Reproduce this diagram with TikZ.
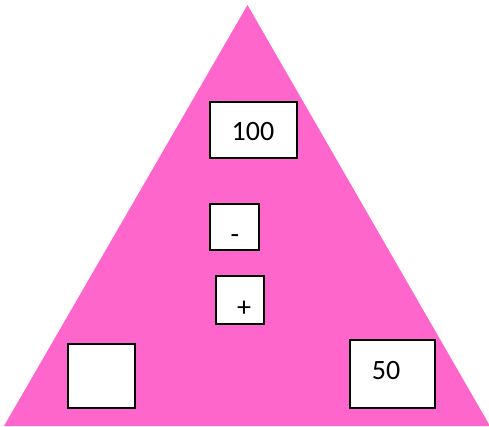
\documentclass[tikz,border=0pt]{standalone}
\usepackage{fontspec}
\setmainfont{Carlito}
\definecolor{tripink}{HTML}{FF66CC}
\begin{document}
\begin{tikzpicture}[x=1pt,y=-1pt,
  box/.style={draw=black,fill=white,line width=1.2pt,inner sep=0pt,minimum width=#1},
  lbl/.style={inner sep=0pt,anchor=base,font=\fontsize{28}{30}\selectfont}]
\useasboundingbox (0,0) rectangle (489,426);
\fill[tripink] (247.5,5) -- (490,426) -- (4,426) -- cycle;
% boxes
\node[box=87pt,minimum height=56pt] (b100) at (253.5,130) {};
\node[box=49pt,minimum height=46pt] (bminus) at (234.5,227) {};
\node[box=48pt,minimum height=48pt] (bplus) at (240,300) {};
\node[box=67pt,minimum height=64pt] (bempty) at (101.5,376) {};
\node[box=85pt,minimum height=68pt] (b50) at (392.5,374) {};
% labels
\node[lbl] (t100) at (253,140) {100};
\node[lbl] (tminus) at (235,243) {-};
\node[lbl] (tplus) at (244,316) {+};
\node[lbl] (t50) at (386,379.5) {50};
\end{tikzpicture}
\end{document}
